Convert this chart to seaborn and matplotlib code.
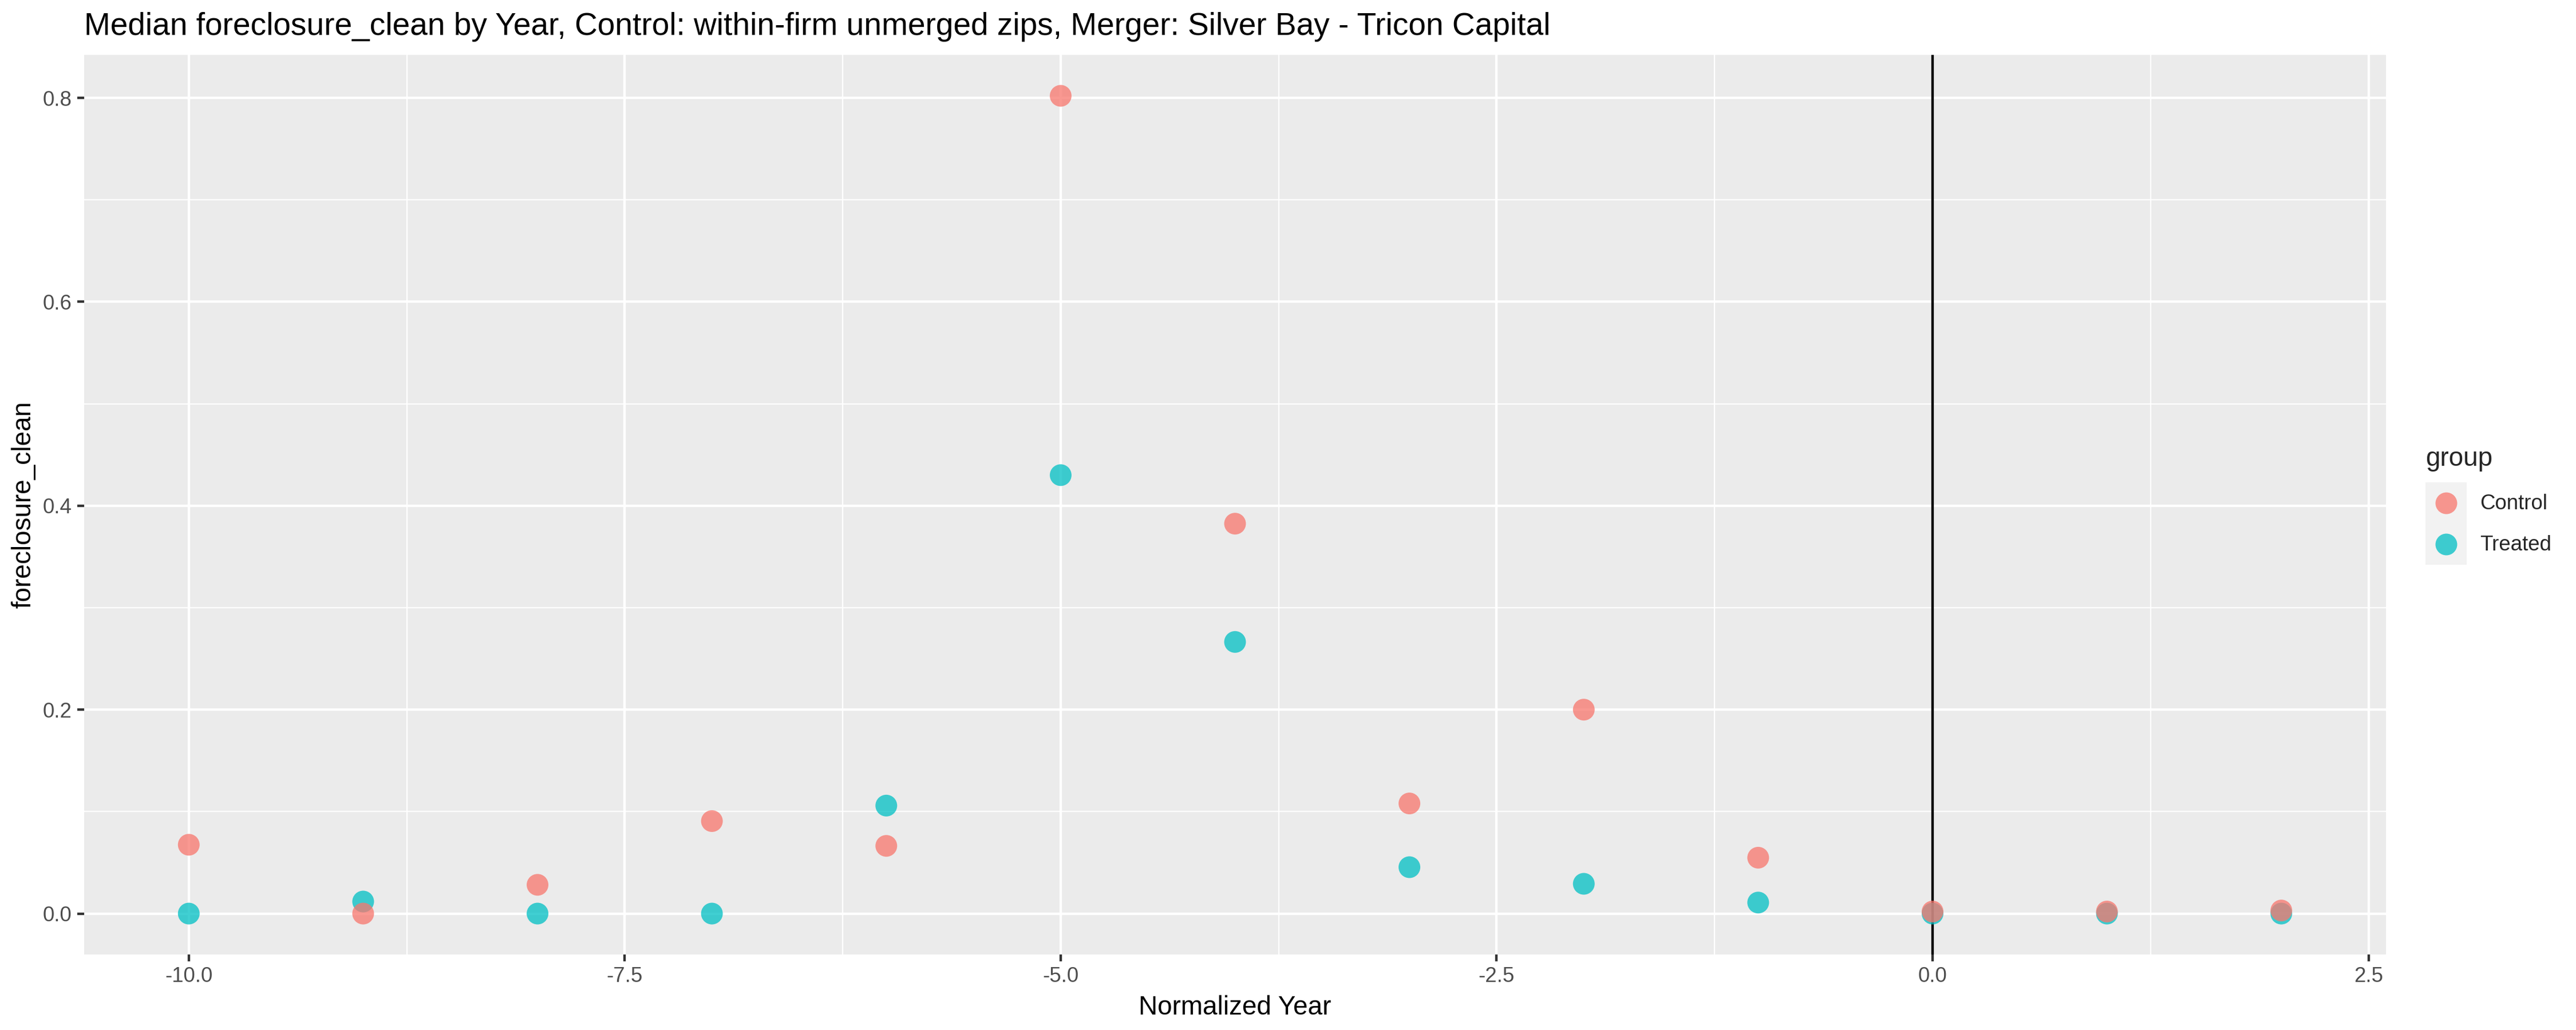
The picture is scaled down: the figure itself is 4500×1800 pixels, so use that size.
import pandas as pd
import numpy as np
import seaborn as sns
import matplotlib.pyplot as plt
from matplotlib.lines import Line2D
from matplotlib.patches import Rectangle
from matplotlib.legend_handler import HandlerBase
from matplotlib.ticker import MultipleLocator, FormatStrFormatter

# values
years = [-10, -9, -8, -7, -6, -5, -4, -3, -2, -1, 0, 1, 2]
control_vals = [0.0675, 0.0, 0.0282, 0.0907, 0.0664, 0.802, 0.3824, 0.108, 0.200, 0.0548, 0.002, 0.002, 0.003]
treated_vals = [0.0, 0.0118, 0.0, 0.0, 0.1059, 0.430, 0.2664, 0.0455, 0.0292, 0.0108, 0.0, 0.0, 0.0]
groups = ['Control', 'Treated']
colors = {'Control': '#F8766D', 'Treated': '#00BFC4'}

# treated rows first so control points end up on top (as in the source plot)
df = pd.concat([
    pd.DataFrame({'year': years, 'value': treated_vals, 'group': 'Treated'}),
    pd.DataFrame({'year': years, 'value': control_vals, 'group': 'Control'}),
], ignore_index=True)


class KeyHandler(HandlerBase):
    # ggplot-like legend key: grey square with the point in the middle
    def create_artists(self, legend, orig_handle, xdescent, ydescent,
                       width, height, fontsize, trans):
        bg = Rectangle((-xdescent, -ydescent), width, height, facecolor='#F2F2F2',
                       edgecolor='none', transform=trans)
        dot = Line2D([width / 2 - xdescent], [height / 2 - ydescent], ls='none',
                     marker='o', markersize=9.1, markeredgewidth=0,
                     markerfacecolor=orig_handle.get_markerfacecolor(), alpha=0.75,
                     transform=trans)
        return [bg, dot]


sns.set_theme(style='darkgrid')
plt.rcParams['font.family'] = ['Liberation Sans', 'DejaVu Sans']
plt.rcParams['axes.unicode_minus'] = False

fig = plt.figure(figsize=(15, 6), dpi=300)
ax = fig.add_axes([147 / 4500, 1 - 1668 / 1800, (4168 - 147) / 4500, (1668 - 96) / 1800])
ax.set_facecolor('#EBEBEB')

ax.axvline(0, color='black', lw=1.05, zorder=1)
sns.scatterplot(data=df, x='year', y='value', hue='group', hue_order=groups,
                palette=colors, s=83, alpha=0.75, linewidth=0, legend=False,
                ax=ax, zorder=3)

ax.set_xlim(-10.6, 2.6)
ax.set_ylim(-0.0401, 0.8421)
ax.xaxis.set_major_locator(MultipleLocator(2.5))
ax.xaxis.set_minor_locator(MultipleLocator(1.25))
ax.yaxis.set_major_locator(MultipleLocator(0.2))
ax.yaxis.set_minor_locator(MultipleLocator(0.1))
ax.xaxis.set_major_formatter(FormatStrFormatter('%.1f'))
ax.yaxis.set_major_formatter(FormatStrFormatter('%.1f'))

ax.grid(which='major', color='white', lw=1.05)
ax.grid(which='minor', color='white', lw=0.53)
ax.set_axisbelow(True)
for sp in ax.spines.values():
    sp.set_visible(False)

ax.tick_params(which='major', length=2.9, width=1.05, color='#333333',
               labelcolor='#4D4D4D', labelsize=8.8, pad=2.2,
               bottom=True, left=True)
ax.tick_params(which='minor', length=0)

ax.set_xlabel('Normalized Year', fontsize=11, color='black', labelpad=3.5)
ax.set_ylabel('foreclosure_clean', fontsize=11, color='black', labelpad=2.75)
ax.set_title('Median foreclosure_clean by Year, Control: within-firm unmerged zips, Merger: Silver Bay - Tricon Capital',
             loc='left', fontsize=13.2, color='black', pad=8.4)

handles = [Line2D([], [], ls='none', marker='o', markerfacecolor=colors[g]) for g in groups]
leg = ax.legend(handles, groups, title='group', loc='upper left',
                bbox_to_anchor=(4237 / 4500, 1 - 780 / 1800), bbox_transform=fig.transFigure,
                frameon=False, fontsize=8.8, title_fontsize=11, borderpad=0,
                borderaxespad=0, handlelength=1.96, handleheight=2.644,
                handletextpad=0.63, labelspacing=0, alignment='left',
                handler_map={Line2D: KeyHandler()})
leg._legend_box.sep = 4.6  # gap between title and keys

fig.savefig('out.png', dpi=300, facecolor='white')
